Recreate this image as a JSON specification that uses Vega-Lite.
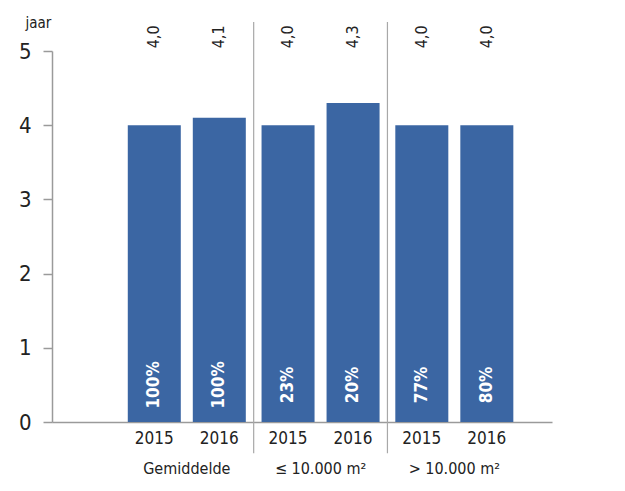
{
  "$schema": "https://vega.github.io/schema/vega-lite/v6.json",
  "autosize": {"type": "none"},
  "width": 500,
  "height": 371,
  "padding": {"left": 52, "top": 51, "right": 73, "bottom": 69},
  "background": "white",
  "config": {
    "view": {"stroke": null},
    "font": "DejaVu Sans Condensed",
    "text": {"font": "DejaVu Sans Condensed"}
  },
  "data": {
    "values": [
      {"group": "Gemiddelde", "year": "2015", "value": 4.0, "label": "4,0", "pct": "100%"},
      {"group": "Gemiddelde", "year": "2016", "value": 4.1, "label": "4,1", "pct": "100%"},
      {"group": "≤ 10.000 m²", "year": "2015", "value": 4.0, "label": "4,0", "pct": "23%"},
      {"group": "≤ 10.000 m²", "year": "2016", "value": 4.3, "label": "4,3", "pct": "20%"},
      {"group": "> 10.000 m²", "year": "2015", "value": 4.0, "label": "4,0", "pct": "77%"},
      {"group": "> 10.000 m²", "year": "2016", "value": 4.0, "label": "4,0", "pct": "80%"}
    ]
  },
  "encoding": {
    "x": {
      "field": "group",
      "type": "nominal",
      "sort": ["Gemiddelde", "≤ 10.000 m²", "> 10.000 m²"],
      "scale": {"paddingInner": 0, "paddingOuter": 0.369, "align": 0.688},
      "axis": {
        "title": null,
        "labelAngle": 0,
        "ticks": false,
        "domainColor": "#9a9a9a",
        "domainWidth": 1.5,
        "labelFontSize": 16,
        "labelColor": "#222222",
        "labelPadding": 38,
        "labelFont": "DejaVu Sans Condensed"
      }
    },
    "xOffset": {
      "field": "year",
      "type": "nominal",
      "scale": {"paddingInner": 0.1846, "paddingOuter": 0.121}
    }
  },
  "layer": [
    {
      "mark": {"type": "bar", "color": "#3b66a3"},
      "encoding": {
        "y": {
          "field": "value",
          "type": "quantitative",
          "scale": {"domain": [0, 5], "nice": false},
          "axis": {
            "values": [0, 1, 2, 3, 4, 5],
            "format": "d",
            "grid": false,
            "title": "jaar",
            "titleAngle": 0,
            "titleX": -14,
            "titleY": -29,
            "titleAlign": "center",
            "titleBaseline": "middle",
            "titleFontSize": 15,
            "titleFontWeight": "normal",
            "titleColor": "#222222",
            "titleFont": "DejaVu Sans Condensed",
            "domainColor": "#9a9a9a",
            "domainWidth": 1.5,
            "tickColor": "#9a9a9a",
            "tickSize": 9,
            "tickWidth": 1.5,
            "labelFontSize": 22,
            "labelColor": "#222222",
            "labelPadding": 12,
            "labelFont": "DejaVu Sans Condensed"
          }
        }
      }
    },
    {
      "transform": [{"filter": "datum.year == '2015' && datum.group != 'Gemiddelde'"}],
      "mark": {"type": "rule", "color": "#a8a8a8", "strokeWidth": 1.2},
      "encoding": {
        "x": {"field": "group", "type": "nominal", "sort": ["Gemiddelde", "≤ 10.000 m²", "> 10.000 m²"], "bandPosition": 0},
        "xOffset": null,
        "y": {"datum": 5.39},
        "y2": {"datum": -0.42}
      }
    },
    {
      "mark": {"type": "text", "angle": 270, "align": "center", "baseline": "middle", "fontSize": 16, "color": "#222222"},
      "encoding": {
        "y": {"datum": 5.19},
        "text": {"field": "label"}
      }
    },
    {
      "mark": {"type": "text", "angle": 270, "align": "center", "baseline": "middle", "fontSize": 17, "fontWeight": "bold", "color": "white"},
      "encoding": {
        "y": {"datum": 0.5},
        "text": {"field": "pct"}
      }
    },
    {
      "mark": {"type": "text", "align": "center", "baseline": "middle", "fontSize": 17, "dy": 17, "color": "#222222"},
      "encoding": {
        "y": {"datum": 0},
        "text": {"field": "year"}
      }
    }
  ]
}
